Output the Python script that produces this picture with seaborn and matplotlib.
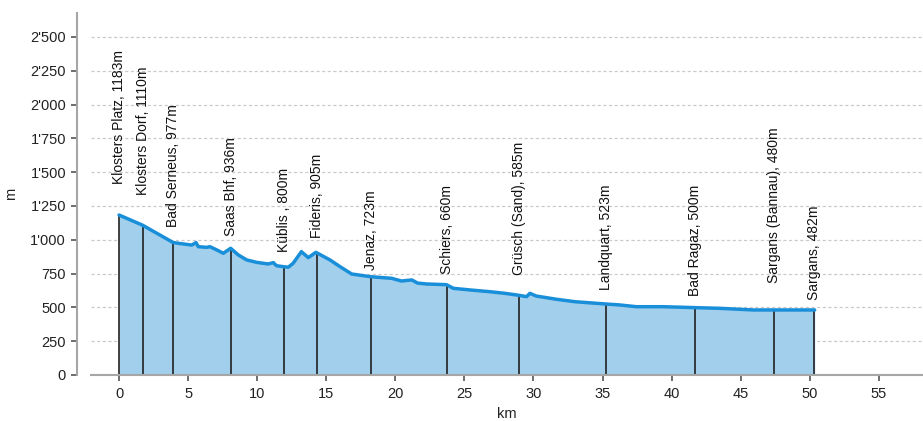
import matplotlib
matplotlib.use("Agg")
import matplotlib.pyplot as plt
import seaborn as sns
import pandas as pd
from matplotlib.ticker import FuncFormatter

# ---- data ----
profile_km = [0.0, 1.7, 3.93, 5.26, 5.57, 5.74, 6.34, 6.58, 7.07, 7.55, 8.08, 8.63,
              9.24, 9.96, 10.8, 11.17, 11.4, 11.9, 12.25, 12.6, 13.2, 13.7, 14.25,
              15.27, 16.0, 16.84, 18.2, 19.73, 20.45, 21.2, 21.6, 22.26, 23.7, 24.2,
              25.4, 26.84, 27.93, 28.97, 29.5, 29.74, 30.2, 31.67, 33.0, 35.24,
              36.25, 37.46, 39.4, 41.75, 43.5, 45.9, 47.44, 50.36]
profile_m = [1183, 1108, 979, 961, 979, 949, 944, 949, 925, 900, 937, 888,
             851, 833, 821, 831, 808, 801, 797, 826, 912, 868, 907,
             851, 801, 747, 727, 715, 695, 703, 680, 673, 668, 641,
             629, 616, 604, 589, 579, 604, 584, 560, 542, 525,
             518, 505, 505, 498, 493, 481, 481, 481]

station_names = ["Klosters Platz, 1183m", "Klosters Dorf, 1110m", "Bad Serneus, 977m",
                 "Saas Bhf, 936m", "Küblis , 800m", "Fideris, 905m", "Jenaz, 723m",
                 "Schiers, 660m", "Grüsch (Sand), 585m", "Landquart, 523m",
                 "Bad Ragaz, 500m", "Sargans (Bannau), 480m", "Sargans, 482m"]
station_km = [0.0, 1.74, 3.93, 8.12, 11.94, 14.3, 18.23, 23.76, 28.94, 35.24, 41.73, 47.44, 50.3]
station_m = [1183, 1110, 977, 936, 800, 905, 723, 660, 585, 523, 500, 480, 482]

x_ticks = [0, 5, 10, 15, 20, 25, 30, 35, 40, 45, 50, 55]
y_ticks = [0, 250, 500, 750, 1000, 1250, 1500, 1750, 2000, 2250, 2500]

# ---- style ----
label_gap_px = [31, 30, 16, 12, 15, 15, 7, 12, 21, 14, 11, 27, 10]

sns.set_theme(style="white")
plt.rcParams['font.family'] = ['Liberation Sans', 'DejaVu Sans']

df = pd.DataFrame({"km": profile_km, "m": profile_m})

fig = plt.figure(figsize=(9.23, 4.21), dpi=100)
ax = fig.add_axes([91 / 923, 46 / 421, 1 - 91 / 923, (375 - 13) / 421])

ax.set_xlim(-2.03, 58.2)
ax.set_ylim(0, 2677)

for yv in y_ticks[1:]:
    ax.axhline(yv, color="#cacaca", lw=0.9, ls=(0, (2.5, 2)), zorder=0)

ax.fill_between(df["km"], 0, df["m"], color="#a2cfec", lw=0, zorder=1)
sns.lineplot(data=df, x="km", y="m", ax=ax, color="#1a8fd9", lw=2.5, zorder=3)

ax.vlines(station_km, 0, station_m, color="#222222", lw=1.2, zorder=2)

for name, xk, ym, gap in zip(station_names, station_km, station_m, label_gap_px):
    ax.annotate(name, xy=(xk, ym), xytext=(0, gap * 0.72), textcoords="offset points",
                rotation=90, ha="center", va="bottom", fontsize=10, color="#111111")

ax.set_xticks(x_ticks)
ax.set_yticks(y_ticks)
ax.yaxis.set_major_formatter(FuncFormatter(lambda v, p: f"{int(v):,}".replace(",", "'")))

for side in ["top", "right"]:
    ax.spines[side].set_visible(False)
ax.spines["left"].set_position(("outward", 10))
for side in ["left", "bottom"]:
    ax.spines[side].set_color("#a6a6a6")
    ax.spines[side].set_linewidth(1.5)

ax.tick_params(axis="both", which="both", length=4, width=1.2, color="#555555",
               labelsize=10.5, labelcolor="#222222", pad=4)
ax.tick_params(axis="x", bottom=True, pad=5)
ax.tick_params(axis="y", left=True)

ax.set_xlabel("km", fontsize=10.5, color="#222222", labelpad=4)
ax.set_ylabel("m", fontsize=10.5, color="#222222", labelpad=9)

fig.savefig("out.png", dpi=100)
